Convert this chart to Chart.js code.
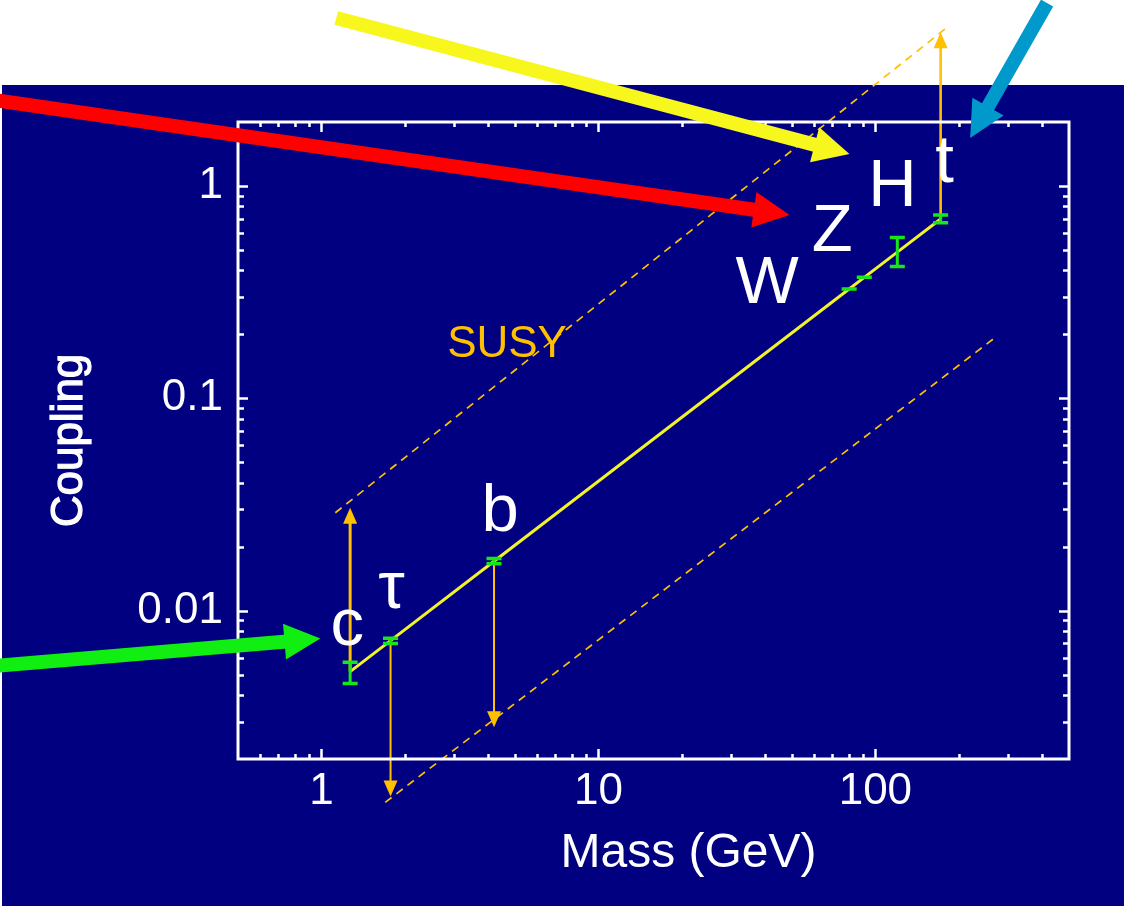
<!DOCTYPE html>
<html>
<head>
<meta charset="utf-8">
<script src="https://cdn.jsdelivr.net/npm/chart.js@4.4.0/dist/chart.umd.min.js"></script>
<style>
  html, body { margin: 0; padding: 0; background: #ffffff; }
  #wrap { width: 1124px; height: 906px; position: relative; }
</style>
</head>
<body>
<div id="wrap"><canvas id="chart" width="1124" height="906"></canvas></div>
<script>
// Fermion and boson masses (GeV) with their Higgs couplings (m / v)
const particles = ['c', 'τ', 'b', 'W', 'Z', 'H', 't'];
const masses = [1.27, 1.777, 4.2, 80.4, 91.19, 120, 172];
const couplings = [0.00516, 0.00722, 0.01707, 0.327, 0.371, 0.488, 0.699];
const errLow = [0.00453, 0.00700, 0.0166, 0.327, 0.371, 0.417, 0.67];
const errHigh = [0.00571, 0.00740, 0.0176, 0.327, 0.371, 0.571, 0.73];

// Possible SUSY enhancement / suppression of selected couplings
const susyParticles = ['c', 'τ', 'b', 't'];
const susyMasses = [1.27, 1.777, 4.2, 172];
const susyCouplings = [0.0305, 0.00133, 0.00282, 5.3];

// Dashed SUSY band edges
const susyUpperMass = [1.123, 180.3];
const susyUpperCoupling = [0.0289, 5.54];
const susyLowerMass = [1.70, 273];
const susyLowerCoupling = [0.00125, 0.1948];

// Labelled ticks
const xTickLabels = [1, 10, 100];
const yTickLabels = [0.01, 0.1, 1];

// Callout arrows (mass, coupling) from tail to tip
const calloutTailMass = [1.132, 0.0641, 0.0641, 416.7];
const calloutTailCoupling = [6.174, 2.551, 0.005462, 7.263];
const calloutTipMass = [80.6, 48.98, 0.9917, 219.9];
const calloutTipCoupling = [1.414, 0.7305, 0.007381, 1.682];

// Position of the SUSY caption (mass, coupling)
const susyTextMass = [4.68];
const susyTextCoupling = [0.1568];

// ---- styling ----
const NAVY = '#000080';
const WHITE = '#ffffff';
const LINE_YELLOW = '#f2f22a';
const SUSY_ORANGE = '#ffc000';
const ERR_GREEN = '#19e619';
const FONT = "'Liberation Sans', Arial, Helvetica, sans-serif";
const calloutColors = ['#f7f71e', '#ff0000', '#11ee11', '#0099cc'];
const susyArrowWidths = [3, 2, 2, 2.6];
// label baseline offsets from each marker, in pixels
const labelOffsets = {
  'c': [-3, -27], 'τ': [1, -33], 'b': [6, -30], 'W': [-82, 14],
  'Z': [-32, -26], 'H': [-5, -46], 't': [4, -37]
};

function sameLog(a, b) { return Math.abs(Math.log10(a) - Math.log10(b)) < 1e-6; }

function logTicks(min, max) {
  const out = [];
  for (let e = Math.floor(Math.log10(min)); e <= Math.ceil(Math.log10(max)); e++) {
    for (let m = 1; m < 10; m++) {
      const v = m * Math.pow(10, e);
      if (v > min * 1.0001 && v < max * 0.9999) out.push({ v, major: m === 1 });
    }
  }
  return out;
}

function drawHead(ctx, x1, y1, x2, y2, len, half) {
  const a = Math.atan2(y2 - y1, x2 - x1);
  const c = Math.cos(a), s = Math.sin(a);
  ctx.beginPath();
  ctx.moveTo(x2, y2);
  ctx.lineTo(x2 - len * c + half * s, y2 - len * s - half * c);
  ctx.lineTo(x2 - len * c - half * s, y2 - len * s + half * c);
  ctx.closePath();
  ctx.fill();
}

function drawArrow(ctx, x1, y1, x2, y2, width, len, half, color) {
  const a = Math.atan2(y2 - y1, x2 - x1);
  const bx = x2 - (len * 0.85) * Math.cos(a);
  const by = y2 - (len * 0.85) * Math.sin(a);
  ctx.save();
  ctx.strokeStyle = color;
  ctx.fillStyle = color;
  ctx.lineWidth = width;
  ctx.lineCap = 'butt';
  ctx.beginPath();
  ctx.moveTo(x1, y1);
  ctx.lineTo(bx, by);
  ctx.stroke();
  drawHead(ctx, x1, y1, x2, y2, len, half);
  ctx.restore();
}

const decorPlugin = {
  id: 'decor',
  beforeDraw(chart) {
    const ctx = chart.ctx;
    ctx.save();
    ctx.fillStyle = WHITE;
    ctx.fillRect(0, 0, chart.width, chart.height);
    ctx.fillStyle = NAVY;
    ctx.fillRect(2, 85, chart.width - 2, chart.height - 85);
    ctx.restore();
  },
  afterDatasetsDraw(chart) {
    const ctx = chart.ctx;
    const xs = chart.scales.x, ys = chart.scales.y;

    // SUSY shift arrows
    susyParticles.forEach((p, i) => {
      const k = particles.indexOf(p);
      const x = xs.getPixelForValue(susyMasses[i]);
      const y0 = ys.getPixelForValue(couplings[k]);
      const y1 = ys.getPixelForValue(susyCouplings[i]);
      drawArrow(ctx, x, y0, x, y1, susyArrowWidths[i], 16, 7, SUSY_ORANGE);
    });

    // error bars
    ctx.save();
    ctx.strokeStyle = ERR_GREEN;
    ctx.lineCap = 'butt';
    masses.forEach((m, i) => {
      const x = xs.getPixelForValue(m);
      const yl = ys.getPixelForValue(errLow[i]);
      const yh = ys.getPixelForValue(errHigh[i]);
      ctx.lineWidth = 3;
      ctx.beginPath();
      ctx.moveTo(x, yl); ctx.lineTo(x, yh);
      ctx.stroke();
      ctx.lineWidth = 3.5;
      ctx.beginPath();
      ctx.moveTo(x - 7.5, yl); ctx.lineTo(x + 7.5, yl);
      ctx.moveTo(x - 7.5, yh); ctx.lineTo(x + 7.5, yh);
      ctx.stroke();
    });
    ctx.restore();

    // particle names
    ctx.save();
    ctx.fillStyle = WHITE;
    ctx.font = '67px ' + FONT;
    ctx.textAlign = 'center';
    ctx.textBaseline = 'alphabetic';
    particles.forEach((p, i) => {
      const off = labelOffsets[p];
      const x = xs.getPixelForValue(masses[i]) + off[0];
      const y = ys.getPixelForValue(couplings[i]) + off[1];
      ctx.fillText(p, x, y);
    });
    // SUSY caption
    ctx.fillStyle = SUSY_ORANGE;
    ctx.font = '44px ' + FONT;
    ctx.fillText('SUSY', xs.getPixelForValue(susyTextMass[0]), ys.getPixelForValue(susyTextCoupling[0]));
    ctx.restore();
  },
  afterDraw(chart) {
    const ctx = chart.ctx;
    const a = chart.chartArea;
    const xs = chart.scales.x, ys = chart.scales.y;
    ctx.save();
    ctx.strokeStyle = WHITE;
    ctx.lineWidth = 2.5;
    // inward tick marks on all four sides
    ctx.beginPath();
    logTicks(xs.min, xs.max).forEach(t => {
      const x = Math.round(xs.getPixelForValue(t.v)) + 0.5;
      const len = t.major ? 10 : 5;
      ctx.moveTo(x, a.bottom); ctx.lineTo(x, a.bottom - len);
      ctx.moveTo(x, a.top); ctx.lineTo(x, a.top + len);
    });
    logTicks(ys.min, ys.max).forEach(t => {
      const y = Math.round(ys.getPixelForValue(t.v)) + 0.5;
      const len = t.major ? 10 : 6;
      ctx.moveTo(a.left, y); ctx.lineTo(a.left + len, y);
      ctx.moveTo(a.right, y); ctx.lineTo(a.right - len, y);
    });
    ctx.stroke();
    // frame
    ctx.lineWidth = 3;
    ctx.strokeRect(a.left, a.top, a.right - a.left, a.bottom - a.top);

    // horizontal axis title
    ctx.fillStyle = WHITE;
    ctx.font = '48px ' + FONT;
    ctx.textAlign = 'center';
    ctx.textBaseline = 'alphabetic';
    ctx.fillText('Mass (GeV)', (a.left + a.right) / 2 + 35, a.bottom + 108);

    // vertical axis title
    ctx.translate(82, (a.top + a.bottom) / 2);
    ctx.rotate(-Math.PI / 2);
    ctx.font = '44px ' + FONT;
    ctx.lineWidth = 1.2;
    ctx.strokeStyle = WHITE;
    ctx.fillText('Coupling', 0, 0);
    ctx.strokeText('Coupling', 0, 0);
    ctx.restore();

    // callout arrows
    calloutColors.forEach((col, i) => {
      drawArrow(ctx,
        xs.getPixelForValue(calloutTailMass[i]), ys.getPixelForValue(calloutTailCoupling[i]),
        xs.getPixelForValue(calloutTipMass[i]), ys.getPixelForValue(calloutTipCoupling[i]),
        14, 36, 18, col);
    });
  }
};

const toPoints = (xsArr, ysArr) => xsArr.map((v, i) => ({ x: v, y: ysArr[i] }));

new Chart(document.getElementById('chart'), {
  type: 'scatter',
  data: {
    datasets: [
      {
        label: 'Standard Model',
        data: toPoints(masses, couplings),
        showLine: true,
        borderColor: LINE_YELLOW,
        borderWidth: 3,
        pointRadius: 0
      },
      {
        label: 'SUSY upper',
        data: toPoints(susyUpperMass, susyUpperCoupling),
        showLine: true,
        borderColor: SUSY_ORANGE,
        borderWidth: 1.7,
        borderDash: [8, 6],
        pointRadius: 0,
        clip: false
      },
      {
        label: 'SUSY lower',
        data: toPoints(susyLowerMass, susyLowerCoupling),
        showLine: true,
        borderColor: SUSY_ORANGE,
        borderWidth: 1.7,
        borderDash: [8, 6],
        pointRadius: 0,
        clip: false
      }
    ]
  },
  options: {
    responsive: false,
    animation: false,
    devicePixelRatio: 1,
    events: [],
    layout: { padding: { top: 122, right: 55, bottom: 0, left: 0 } },
    plugins: { legend: { display: false }, tooltip: { enabled: false } },
    scales: {
      x: {
        type: 'logarithmic',
        position: 'bottom',
        min: 0.5,
        max: 500,
        grid: { display: false, drawTicks: false },
        border: { display: false },
        afterFit(s) { s.height = 147; },
        ticks: {
          autoSkip: false,
          maxRotation: 0,
          minRotation: 0,
          padding: 6,
          color: WHITE,
          font: { family: FONT, size: 44 },
          callback(v) {
            const hit = xTickLabels.find(t => sameLog(t, v));
            return hit !== undefined ? String(hit) : '';
          }
        }
      },
      y: {
        type: 'logarithmic',
        position: 'left',
        min: 0.002,
        max: 2,
        grid: { display: false, drawTicks: false },
        border: { display: false },
        afterFit(s) { s.width = 238; },
        ticks: {
          autoSkip: false,
          padding: 15,
          color: WHITE,
          font: { family: FONT, size: 44 },
          callback(v) {
            const hit = yTickLabels.find(t => sameLog(t, v));
            return hit !== undefined ? String(hit) : '';
          }
        }
      }
    }
  },
  plugins: [decorPlugin]
});
</script>
</body>
</html>
